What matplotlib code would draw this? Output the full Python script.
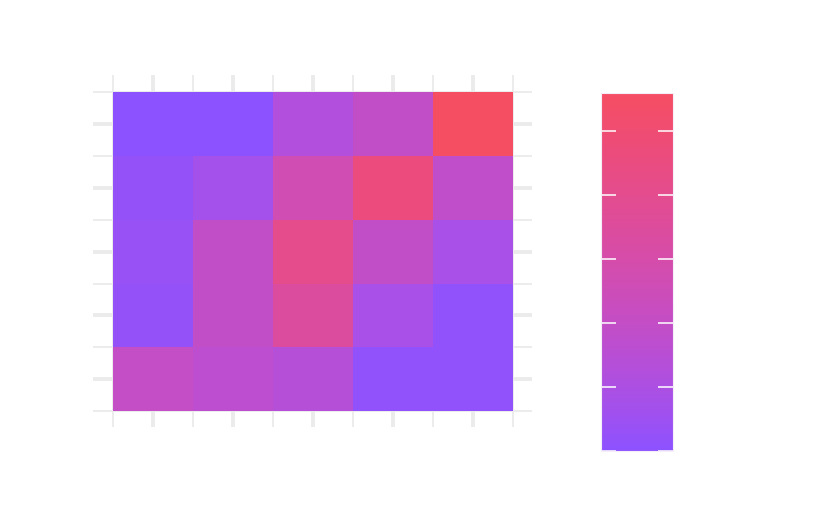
import matplotlib
matplotlib.use("Agg")
import matplotlib.pyplot as plt
import numpy as np
from matplotlib.colors import ListedColormap, Normalize
import matplotlib.cm as cm

# Data (rows listed top to bottom, columns left to right)
x_cats = [1, 2, 3, 4, 5]
y_cats = [1, 2, 3, 4, 5]
row_top = [0.0, 0.0, 6.2, 9.8, 28.0]
row_2 = [1.3, 3.6, 13.4, 23.0, 9.2]
row_3 = [1.7, 9.8, 20.4, 9.8, 4.2]
row_4 = [1.3, 9.8, 17.1, 4.2, 0.8]
row_bottom = [10.0, 8.4, 7.0, 0.8, 0.8]
vmin, vmax = 0.0, 28.0
cbar_ticks = [0, 5, 10, 15, 20, 25]
color_low, color_high = "#8c52ff", "#f54d62"

values = np.array([row_bottom, row_4, row_3, row_2, row_top])


# --- Lab-space colour interpolation ---
def hex2rgb(h):
    h = h.lstrip('#')
    return np.array([int(h[i:i+2], 16) for i in (0, 2, 4)]) / 255.0

def srgb2lin(c):
    return np.where(c <= 0.04045, c/12.92, ((c+0.055)/1.055)**2.4)

def lin2srgb(c):
    c = np.clip(c, 0, 1)
    return np.where(c <= 0.0031308, 12.92*c, 1.055*c**(1/2.4)-0.055)

M = np.array([[0.4124, 0.3576, 0.1805], [0.2126, 0.7152, 0.0722], [0.0193, 0.1192, 0.9505]])
Minv = np.linalg.inv(M)
wp = np.array([0.95047, 1.0, 1.08883])

def f(t):
    d = 6/29
    return np.where(t > d**3, np.cbrt(t), t/(3*d*d) + 4/29)

def finv(t):
    d = 6/29
    return np.where(t > d, t**3, 3*d*d*(t-4/29))

def rgb2lab(rgb):
    xyz = M @ srgb2lin(rgb) / wp
    fx, fy, fz = f(xyz)
    return np.array([116*fy-16, 500*(fx-fy), 200*(fy-fz)])

def lab2rgb(lab):
    L, a, b = lab
    fy = (L+16)/116
    fx = fy + a/500
    fz = fy - b/200
    xyz = np.array([finv(fx), finv(fy), finv(fz)]) * wp
    return np.clip(lin2srgb(Minv @ xyz), 0, 1)

lab_lo, lab_hi = rgb2lab(hex2rgb(color_low)), rgb2lab(hex2rgb(color_high))
cmap = ListedColormap([lab2rgb(lab_lo + t*(lab_hi-lab_lo)) for t in np.linspace(0, 1, 256)])
norm = Normalize(vmin=vmin, vmax=vmax)

fig = plt.figure(figsize=(8.35, 5.26), dpi=100)
ax = fig.add_axes([93/835, 1-427/526, (532-93)/835, (427-75)/526])

xe = np.arange(len(x_cats) + 1) + 0.5
ye = np.arange(len(y_cats) + 1) + 0.5
ax.pcolormesh(xe, ye, values, cmap=cmap, norm=norm, zorder=3, edgecolors="none")

ax.set_xlim(0.25, 5.74)
ax.set_ylim(0.25, 5.77)
ax.set_xticks(x_cats)
ax.set_yticks(y_cats)
ax.set_xticks(xe, minor=True)
ax.set_yticks(ye, minor=True)
ax.set_xticklabels([])
ax.set_yticklabels([])
ax.tick_params(which="both", length=0)
ax.set_axisbelow(True)
ax.grid(which="major", color="#ebebeb", linewidth=2.8, zorder=0)
ax.grid(which="minor", color="#ebebeb", linewidth=1.3, zorder=0)
for s in ax.spines.values():
    s.set_visible(False)

cax = fig.add_axes([601/835, 1-451/526, 72/835, 358/526])
sm = cm.ScalarMappable(norm=norm, cmap=cmap)
cb = fig.colorbar(sm, cax=cax, ticks=cbar_ticks)
cb.outline.set_edgecolor("#f3eef8")
cb.outline.set_linewidth(0.8)
cax.tick_params(which="major", direction="in", length=11, width=1.1,
                colors="white", left=True, right=True,
                labelleft=False, labelright=False)
cax.minorticks_off()

fig.savefig("out.png", dpi=100, facecolor="white")
